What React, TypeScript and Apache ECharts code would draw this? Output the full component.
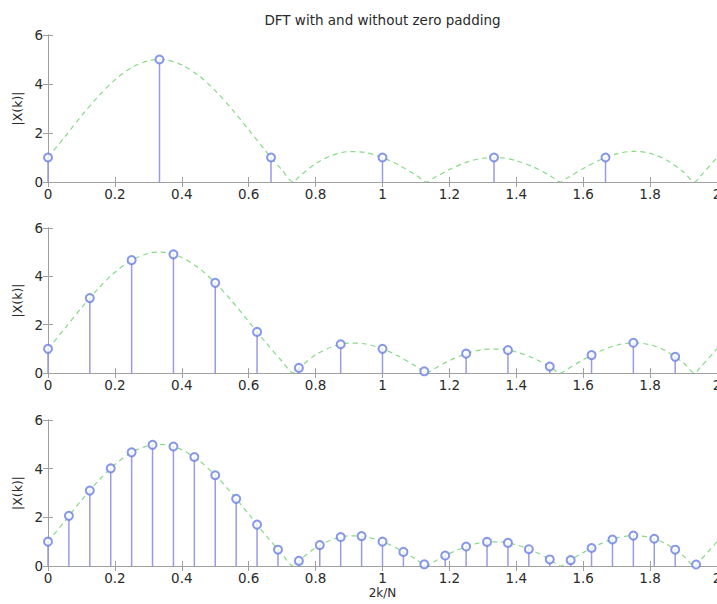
import React, { useEffect, useRef } from "react";
import * as echarts from "echarts";

// DTFT magnitude (green dashed curve)
const curveX = [0, 0.05, 0.1, 0.15, 0.2, 0.25, 0.3, 0.333, 0.35, 0.4, 0.45, 0.5, 0.55, 0.6, 0.65, 0.7, 0.733, 0.75, 0.8, 0.85, 0.9, 0.95, 1, 1.05, 1.1, 1.133, 1.15, 1.2, 1.25, 1.3, 1.35, 1.4, 1.45, 1.5, 1.533, 1.55, 1.6, 1.65, 1.7, 1.75, 1.8, 1.85, 1.9, 1.933, 1.95, 2];
const curveY = [1, 1.84, 2.7, 3.49, 4.17, 4.67, 4.95, 5, 4.99, 4.78, 4.35, 3.73, 2.97, 2.13, 1.28, 0.48, 0, 0.21, 0.75, 1.09, 1.24, 1.2, 1, 0.68, 0.28, 0, 0.14, 0.51, 0.8, 0.97, 0.99, 0.87, 0.62, 0.27, 0, 0.14, 0.55, 0.9, 1.15, 1.25, 1.17, 0.89, 0.41, 0, 0.23, 1];

// 6-point DFT
const dft6X = [0, 0.3333, 0.6667, 1, 1.3333, 1.6667];
const dft6Y = [1, 5, 1, 1, 1, 1];

// 16-point DFT
const dft16X = [0, 0.125, 0.25, 0.375, 0.5, 0.625, 0.75, 0.875, 1, 1.125, 1.25, 1.375, 1.5, 1.625, 1.75, 1.875];
const dft16Y = [1, 3.1, 4.67, 4.91, 3.73, 1.7, 0.21, 1.19, 1, 0.07, 0.8, 0.95, 0.27, 0.74, 1.25, 0.67];

// 32-point DFT
const dft32X = [0, 0.0625, 0.125, 0.1875, 0.25, 0.3125, 0.375, 0.4375, 0.5, 0.5625, 0.625, 0.6875, 0.75, 0.8125, 0.875, 0.9375, 1, 1.0625, 1.125, 1.1875, 1.25, 1.3125, 1.375, 1.4375, 1.5, 1.5625, 1.625, 1.6875, 1.75, 1.8125, 1.875, 1.9375];
const dft32Y = [1, 2.06, 3.1, 4.01, 4.67, 4.98, 4.91, 4.48, 3.73, 2.76, 1.7, 0.67, 0.21, 0.86, 1.19, 1.23, 1, 0.58, 0.07, 0.43, 0.8, 0.99, 0.95, 0.69, 0.27, 0.24, 0.74, 1.09, 1.25, 1.12, 0.67, 0.06];

const titleText = "DFT with and without zero padding";
const yName = "|X(k)|";
const xName = "2k/N";

const FONT = "DejaVu Sans";
const FS = 13.5;
const AXIS_COLOR = "#a0a0a0";
const TEXT_COLOR = "#2a2a2a";

const grids = [
  { left: 48, top: 35, width: 669, height: 147, outerBoundsMode: "none", containLabel: false },
  { left: 48, top: 228, width: 669, height: 145, outerBoundsMode: "none", containLabel: false },
  { left: 48, top: 420, width: 669, height: 146, outerBoundsMode: "none", containLabel: false },
];

const stemSets = [
  [dft6X, dft6Y],
  [dft16X, dft16Y],
  [dft32X, dft32Y],
];

export default function App() {
  const ref = useRef<HTMLDivElement>(null);
  useEffect(() => {
    if (!ref.current) return;
    const chart = echarts.init(ref.current, undefined, { renderer: "svg" });
    const curve = curveX.map((x, i) => [x, curveY[i]]);
    const xAxes: any[] = [];
    const yAxes: any[] = [];
    const series: any[] = [];
    grids.forEach((g, i) => {
      const common = {
        gridIndex: i,
        type: "value",
        splitLine: { show: false },
        axisLine: { show: true, lineStyle: { color: AXIS_COLOR, width: 1 } },
        axisTick: { show: true, inside: true, length: 5, lineStyle: { color: AXIS_COLOR } },
      };
      xAxes.push({
        ...common,
        min: 0,
        max: 2,
        interval: 0.2,
        position: "bottom",
        axisLabel: { color: TEXT_COLOR, fontSize: FS, fontFamily: FONT, margin: 5 },
        name: i === 2 ? xName : "",
        nameLocation: "middle",
        nameGap: 21,
        nameTextStyle: { color: TEXT_COLOR, fontSize: FS - 1.5, fontFamily: FONT },
      });
      xAxes.push({
        ...common,
        min: 0,
        max: 2,
        interval: 0.2,
        position: "top",
        axisLabel: { show: false },
      });
      yAxes.push({
        ...common,
        min: 0,
        max: 6,
        interval: 2,
        position: "left",
        axisLabel: { color: TEXT_COLOR, fontSize: FS, fontFamily: FONT, margin: 5 },
        name: yName,
        nameLocation: "middle",
        nameGap: 9,
        nameTextStyle: { color: TEXT_COLOR, fontSize: FS - 1, fontFamily: FONT },
      });
      yAxes.push({
        ...common,
        min: 0,
        max: 6,
        interval: 2,
        position: "right",
        axisLabel: { show: false },
      });
      const [sx, sy] = stemSets[i];
      const stems = sx.map((x, j) => [x, sy[j]]);
      series.push({
        type: "line",
        xAxisIndex: 2 * i,
        yAxisIndex: 2 * i,
        data: curve,
        showSymbol: false,
        smooth: 0.3,
        lineStyle: { color: "#88da88", width: 1.2, type: [5, 4] },
        z: 1,
      });
      series.push({
        type: "custom",
        xAxisIndex: 2 * i,
        yAxisIndex: 2 * i,
        data: stems,
        encode: { x: 0, y: 1 },
        renderItem: (params: any, api: any) => {
          const p0 = api.coord([api.value(0), 0]);
          const p1 = api.coord([api.value(0), api.value(1)]);
          return {
            type: "line",
            shape: { x1: p0[0], y1: p0[1], x2: p1[0], y2: p1[1] },
            style: { stroke: "#9a9ae6", lineWidth: 1.5 },
          };
        },
        z: 2,
      });
      series.push({
        type: "scatter",
        xAxisIndex: 2 * i,
        yAxisIndex: 2 * i,
        data: stems,
        symbol: "emptyCircle",
        symbolSize: 8,
        itemStyle: { color: "#6a7ee2", borderWidth: 1.1 },
        z: 3,
      });
    });
    chart.setOption({
      animation: false,
      textStyle: { fontFamily: FONT },
      grid: grids,
      xAxis: xAxes,
      yAxis: yAxes,
      series,
      graphic: [
        {
          type: "text",
          x: 382.5,
          y: 20,
          style: {
            text: titleText,
            fill: TEXT_COLOR,
            font: `${FS}px "${FONT}"`,
            align: "center",
            verticalAlign: "middle",
            textAlign: "center",
            textVerticalAlign: "middle",
          },
        },
      ],
    });
    return () => chart.dispose();
  }, []);
  return (
    <div
      ref={ref}
      style={{ position: "fixed", left: 0, top: 0, width: 717, height: 604, background: "#ffffff" }}
    />
  );
}
